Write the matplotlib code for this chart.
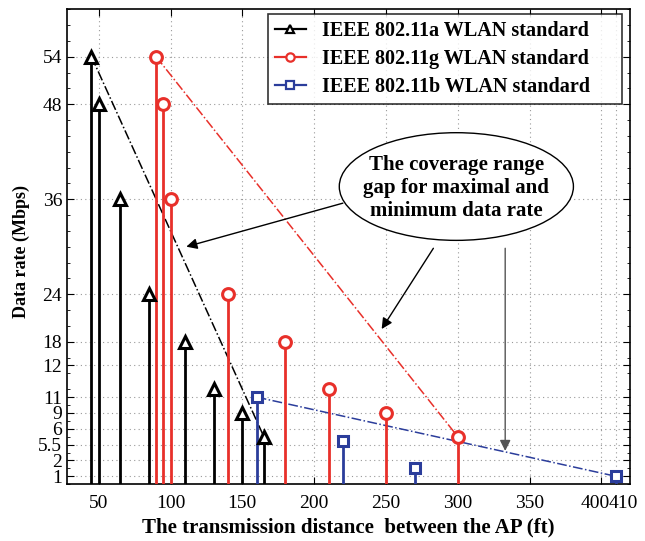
import matplotlib

matplotlib.use("Agg")
import matplotlib.pyplot as plt
import numpy as np
from matplotlib.legend_handler import HandlerLine2D
from matplotlib.patches import Ellipse
from matplotlib.ticker import MultipleLocator
from matplotlib.transforms import ScaledTranslation

plt.rcParams["font.family"] = ["Liberation Serif", "DejaVu Serif"]

# distance (ft) and data rate (Mbps) per standard
dist_a = [45, 50, 65, 85, 110, 130, 150, 165]
rate_a = [54, 48, 36, 24, 18, 12, 9, 6]
dist_g = [90, 95, 100, 140, 180, 210, 250, 300]
rate_g = [54, 48, 36, 24, 18, 12, 9, 6]
dist_b = [160, 220, 270, 410]
rate_b = [11, 5.5, 2, 1]

x_ticks = [50, 100, 150, 200, 250, 300, 350, 400, 410]
# label positions on the y axis are spread out below 18 so they do not overlap
y_tick_pos = [1, 3, 5, 7, 9, 11, 15, 18, 24, 36, 48, 54]
y_tick_labels = ["1", "2", "5.5", "6", "9", "11", "12", "18", "24", "36", "48", "54"]


class EndMarkerHandler(HandlerLine2D):
    """Legend handle with the marker sitting on the right end of the line."""

    def get_xdata(self, legend, xdescent, ydescent, width, height, fontsize):
        xdata = np.array([-xdescent, -xdescent + width])
        return xdata, np.array([-xdescent + width])


fig = plt.figure(figsize=(6.45, 5.41), dpi=100)
ax = fig.add_axes([0.104, 0.105, 0.873, 0.878])

series = [
    (dist_a, rate_a, "k", "^", 9, "IEEE 802.11a WLAN standard"),
    (dist_g, rate_g, "#e8302a", "o", 8.5, "IEEE 802.11g WLAN standard"),
    (dist_b, rate_b, "#2b3d9b", "s", 7, "IEEE 802.11b WLAN standard"),
]
handles = []
for xs, ys, color, marker, msize, label in series:
    for x, y in zip(xs, ys):
        ax.plot([x, x], [0, y], color=color, linewidth=2.0, zorder=3)
    ax.plot(xs, ys, linestyle="none", marker=marker, markersize=msize,
            markerfacecolor="white", markeredgecolor=color,
            markeredgewidth=2.2, zorder=4)
    (h,) = ax.plot([], [], color=color, linewidth=1.6, marker=marker,
                   markersize=6, markerfacecolor="white", markeredgecolor=color,
                   markeredgewidth=1.6, label=label + "     ")
    handles.append(h)
    # dash-dot trend line from highest to lowest rate
    ax.plot([xs[0], xs[-1]], [ys[0], ys[-1]], color=color, linestyle="-.",
            linewidth=1.1, zorder=2)

ax.set_xlim(28, 420)
ax.set_ylim(0, 60)
ax.set_xticks(x_ticks)
ax.set_xticklabels([str(t) for t in x_ticks], fontsize=14)
ax.set_yticks(y_tick_pos)
ax.set_yticklabels(y_tick_labels, fontsize=14)
ax.yaxis.set_minor_locator(MultipleLocator(2))
ax.tick_params(which="both", direction="in", top=True, right=True)
ax.tick_params(which="major", length=5)
ax.tick_params(which="minor", length=2.5)
ax.tick_params(axis="x", pad=8)
ax.grid(True, which="major", linestyle=(0, (1, 3)), color="#999999",
        linewidth=0.8)
for sp in ax.spines.values():
    sp.set_linewidth(1.2)

# nudge the crowded 400 / 410 labels apart
for lab in ax.get_xticklabels():
    shift = {"400": -6, "410": 8}.get(lab.get_text(), 0)
    if shift:
        lab.set_transform(lab.get_transform()
                          + ScaledTranslation(shift / 100, 0, fig.dpi_scale_trans))

ax.set_xlabel("The transmission distance  between the AP (ft)",
              fontsize=15, fontweight="bold")
ax.set_ylabel("Data rate (Mbps)", fontsize=13, fontweight="bold")
ax.yaxis.set_label_coords(-0.066, 0.49)

leg = ax.legend(handles=handles, loc="upper right",
                bbox_to_anchor=(1 - 8 / 563, 1 - 5 / 475), borderaxespad=0,
                prop={"weight": "bold", "size": 14.5}, numpoints=1,
                handler_map={h: EndMarkerHandler() for h in handles},
                frameon=True, fancybox=False, edgecolor="black",
                handlelength=1.55, borderpad=0.35, labelspacing=0.38,
                handletextpad=0.8)
leg.get_frame().set_linewidth(1.2)

# callout
ax.add_patch(Ellipse((299, 37.6), 163, 13.6, facecolor="white",
                     edgecolor="black", linewidth=1.0, zorder=5))
ax.text(299, 37.4, "The coverage range\ngap for maximal and\nminimum data rate",
        ha="center", va="center", fontsize=15, fontweight="bold",
        linespacing=1.22, zorder=6)
arrow = dict(arrowstyle="-|>", color="black", linewidth=1.0,
             mutation_scale=16, shrinkA=0, shrinkB=0)
ax.annotate("", xy=(111, 30.0), xytext=(220, 35.5), arrowprops=arrow, zorder=6)
ax.annotate("", xy=(247, 19.6), xytext=(283, 29.8), arrowprops=arrow, zorder=6)
ax.annotate("", xy=(333, 4.2), xytext=(333, 29.8),
            arrowprops=dict(arrow, color="#555555"), zorder=6)

fig.savefig("out.png")
